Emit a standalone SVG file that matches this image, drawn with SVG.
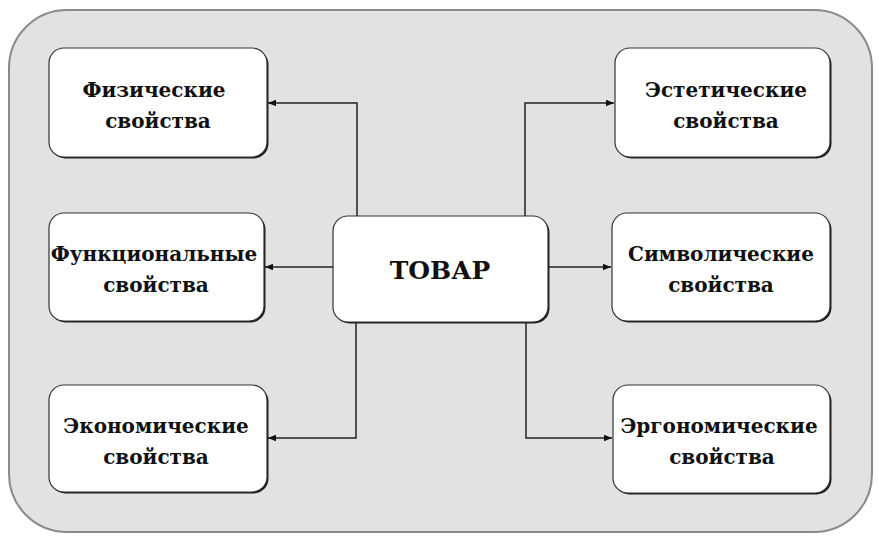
<svg xmlns="http://www.w3.org/2000/svg" width="879" height="539" viewBox="0 0 879 539">
<style>
.bg{fill:#e2e2e2;stroke:#8a8a8a;stroke-width:2}
.box{fill:#ffffff;stroke:#333;stroke-width:1.2}
.sh{fill:#1a1a1a}
.t{font-family:"DejaVu Serif","Liberation Serif",serif;font-weight:bold;font-size:20px;fill:#111;text-anchor:middle}
.big{font-size:25px}
.c{fill:none;stroke:#222;stroke-width:1.5}
</style>
<defs>
<marker id="ah" viewBox="0 0 10 10" refX="10" refY="5" markerWidth="10" markerHeight="8" markerUnits="userSpaceOnUse" orient="auto">
<path d="M0,1 L10,5 L0,9 Z" fill="#111"/>
</marker>
</defs>
<rect class="bg" x="9" y="10" width="863" height="522" rx="58" ry="58"/>
<g id="n-phys">
<rect class="sh" x="50.5" y="49.5" width="218" height="109" rx="15"/>
<rect class="box" x="49" y="48" width="218" height="109" rx="15"/>
<text class="t" x="154" y="97">Физические</text>
<text class="t" x="158" y="128">свойства</text>
</g>
<g id="n-func">
<rect class="sh" x="50.5" y="214.5" width="215" height="108" rx="15"/>
<rect class="box" x="49" y="213" width="215" height="108" rx="15"/>
<text class="t" x="154" y="261">Функциональные</text>
<text class="t" x="156" y="292">свойства</text>
</g>
<g id="n-econ">
<rect class="sh" x="50.5" y="386.5" width="218" height="107" rx="15"/>
<rect class="box" x="49" y="385" width="218" height="107" rx="15"/>
<text class="t" x="156" y="433">Экономические</text>
<text class="t" x="156" y="464">свойства</text>
</g>
<g id="n-tovar">
<rect class="sh" x="334.5" y="217.5" width="215" height="106" rx="15"/>
<rect class="box" x="333" y="216" width="215" height="106" rx="15"/>
<text class="t big" x="440" y="279">ТОВАР</text>
</g>
<g id="n-aest">
<rect class="sh" x="616.5" y="49.5" width="215" height="109" rx="15"/>
<rect class="box" x="615" y="48" width="215" height="109" rx="15"/>
<text class="t" x="726" y="97">Эстетические</text>
<text class="t" x="726" y="128">свойства</text>
</g>
<g id="n-symb">
<rect class="sh" x="613.5" y="214.5" width="218" height="108" rx="15"/>
<rect class="box" x="612" y="213" width="218" height="108" rx="15"/>
<text class="t" x="721" y="261">Символические</text>
<text class="t" x="721" y="292">свойства</text>
</g>
<g id="n-ergo">
<rect class="sh" x="614.5" y="386.5" width="217" height="108" rx="15"/>
<rect class="box" x="613" y="385" width="217" height="108" rx="15"/>
<text class="t" x="719" y="433">Эргономические</text>
<text class="t" x="722" y="464">свойства</text>
</g>
<g id="connectors">
<path class="c" d="M357,216 V103 H268" marker-end="url(#ah)"/>
<path class="c" d="M333,267 H265" marker-end="url(#ah)"/>
<path class="c" d="M356,322 V438 H268" marker-end="url(#ah)"/>
<path class="c" d="M525,216 V103 H614" marker-end="url(#ah)"/>
<path class="c" d="M548,267 H611" marker-end="url(#ah)"/>
<path class="c" d="M526,322 V438 H612" marker-end="url(#ah)"/>
</g>
</svg>
